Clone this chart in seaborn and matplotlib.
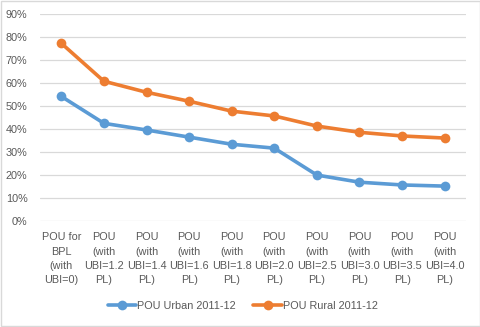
import matplotlib
matplotlib.use("Agg")
import matplotlib.pyplot as plt
import seaborn as sns
import pandas as pd
from matplotlib.patches import Rectangle
from matplotlib.ticker import PercentFormatter

categories = [
    "POU for\nBPL\n(with\nUBI=0)",
    "POU\n(with\nUBI=1.2\nPL)",
    "POU\n(with\nUBI=1.4\nPL)",
    "POU\n(with\nUBI=1.6\nPL)",
    "POU\n(with\nUBI=1.8\nPL)",
    "POU\n(with\nUBI=2.0\nPL)",
    "POU\n(with\nUBI=2.5\nPL)",
    "POU\n(with\nUBI=3.0\nPL)",
    "POU\n(with\nUBI=3.5\nPL)",
    "POU\n(with\nUBI=4.0\nPL)",
]
urban = [54.3, 42.6, 39.7, 36.6, 33.5, 31.8, 20.1, 17.0, 15.8, 15.3]
rural = [77.4, 60.9, 56.1, 52.2, 47.9, 45.8, 41.4, 38.7, 37.1, 36.2]
series_names = ["POU Urban 2011-12", "POU Rural 2011-12"]
yticks = [0, 10, 20, 30, 40, 50, 60, 70, 80, 90]

df = pd.DataFrame({
    "category": categories * 2,
    "x": list(range(len(categories))) * 2,
    "value": urban + rural,
    "series": [series_names[0]] * len(urban) + [series_names[1]] * len(rural),
})

sns.set_theme(style="white")
plt.rcParams["font.family"] = ["Liberation Sans", "DejaVu Sans"]

fig = plt.figure(figsize=(4.81, 3.27), dpi=100)
ax = fig.add_axes([40 / 481, 1 - 221.3 / 327, 426 / 481, (221.3 - 14.3) / 327])

palette = {series_names[0]: "#5B9BD5", series_names[1]: "#ED7D31"}
sns.lineplot(data=df, x="x", y="value", hue="series", palette=palette,
             marker="o", markersize=7, markeredgewidth=0, linewidth=2.6,
             ax=ax, legend=True, zorder=3)

ax.set_xlim(-0.5, len(categories) - 0.5)
ax.set_ylim(0, 90)
ax.set_yticks(yticks)
ax.yaxis.set_major_formatter(PercentFormatter(decimals=0))
ax.set_xticks(range(len(categories)))
ax.set_xticklabels(categories, linespacing=1.52)
ax.tick_params(axis="both", length=0, labelsize=7.8, labelcolor="#595959")
ax.tick_params(axis="x", pad=8)
ax.tick_params(axis="y", pad=9)
ax.grid(axis="y", color="#D9D9D9", linewidth=0.9)
ax.set_axisbelow(True)
for s in ax.spines.values():
    s.set_visible(False)
ax.set_xlabel("")
ax.set_ylabel("")

handles, labels = ax.get_legend_handles_labels()
ax.legend(handles, labels, loc="center", bbox_to_anchor=(0.505, 1 - 306 / 327),
          bbox_transform=fig.transFigure, ncol=2, frameon=False,
          fontsize=7.8, labelcolor="#595959", handlelength=2.6,
          handletextpad=0.1, columnspacing=1.6)

fig.patches.append(Rectangle((0.002, 0.003), 0.995, 0.994, transform=fig.transFigure,
                             fill=False, edgecolor="#D9D9D9", linewidth=1))

fig.savefig("out.png", dpi=100)
